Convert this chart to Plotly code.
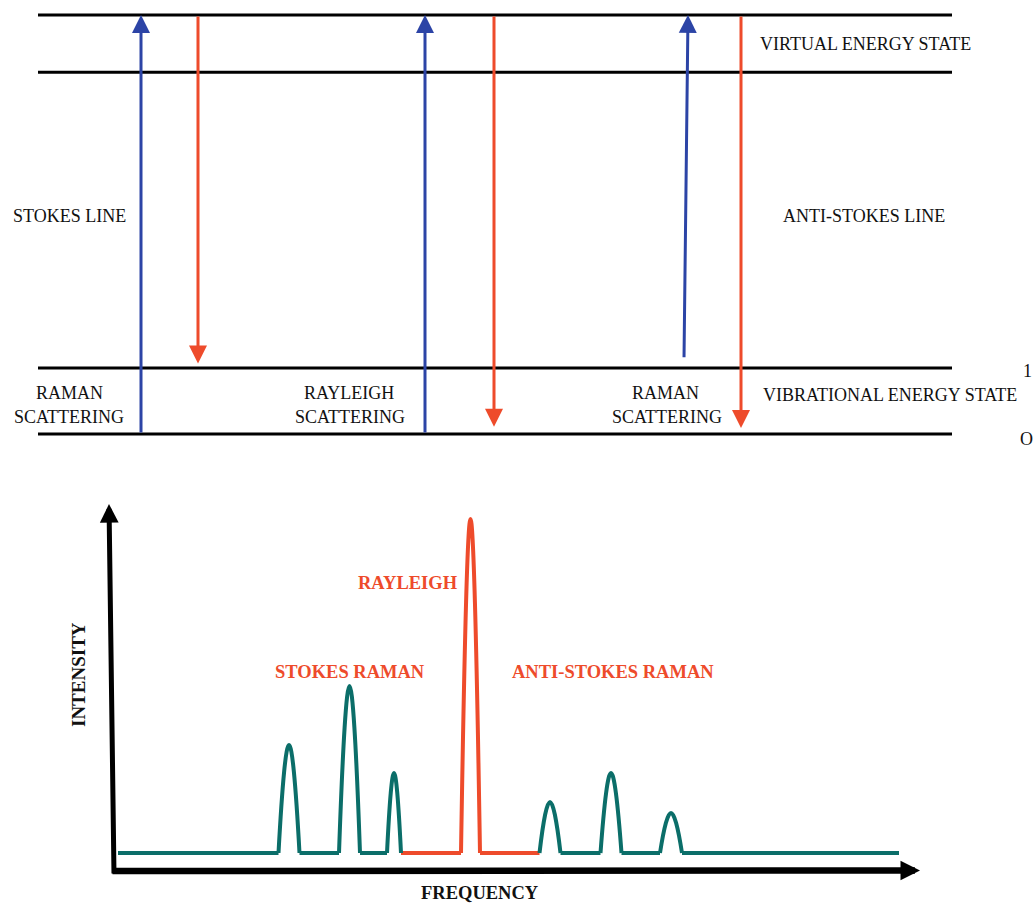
import plotly.graph_objects as go

# ---------------- top: energy level diagram ----------------
# energy levels (units: vibrational quantum = 1)
level_energy = [0.0, 1.0, 5.48, 6.35]
level_x_start = 38
level_x_end = 952

# excitation (blue, upward) arrows
excite_x_from = [141, 425, 684]
excite_x_to = [141, 425, 688]
excite_from = [0.0, 0.0, 1.14]
excite_to = [6.35, 6.35, 6.35]
# emission (red, downward) arrows
emit_x = [198, 494, 741]
emit_from = [6.35, 6.35, 6.35]
emit_to = [1.07, 0.11, 0.09]

top_texts = ["VIRTUAL ENERGY STATE", "STOKES LINE", "ANTI-STOKES LINE",
             "RAMAN", "SCATTERING", "RAYLEIGH", "SCATTERING",
             "RAMAN", "SCATTERING", "VIBRATIONAL ENERGY STATE", "1", "O"]
top_text_x = [758, 11, 781, 69, 69, 349, 350, 665, 667, 761, 1027, 1026]
top_text_e = [5.91, 3.30, 3.30, 0.62, 0.26, 0.62, 0.26, 0.62, 0.26, 0.59, 0.955, -0.076]
top_text_anchor = ["left", "left", "left", "center", "center", "center", "center",
                   "center", "center", "left", "center", "center"]

# ---------------- bottom: spectrum ----------------
baseline_level = 18
peak_freq = [176, 236.5, 281, 357.5, 437, 498, 558]
peak_halfwidth = [10.5, 10.5, 7, 9.5, 10.5, 10.5, 11]
peak_intensity = [126, 185, 98, 352, 69, 98, 58]
peak_kind = ["stokes", "stokes", "stokes", "rayleigh", "anti", "anti", "anti"]
spectrum_start = 5
spectrum_end = 786

spec_labels = ["RAYLEIGH", "STOKES RAMAN", "ANTI-STOKES RAMAN"]
spec_label_x = [347, 236.5, 499.5]
spec_label_y = [288, 199, 199]
spec_label_anchor = ["right", "center", "center"]

BLUE = "#2C44A6"
RED = "#EE4B2B"
TEAL = "#0B6E69"
INK = "#111111"
FONT = "Liberation Serif"

fig = go.Figure()

# energy level lines
for e in level_energy:
    fig.add_trace(go.Scatter(x=[level_x_start, level_x_end], y=[e, e], mode="lines",
                             line=dict(color="black", width=3), xaxis="x", yaxis="y",
                             hoverinfo="skip"))

annotations = []
for xf, xt, ef, et in zip(excite_x_from, excite_x_to, excite_from, excite_to):
    annotations.append(dict(x=xt, y=et, ax=xf, ay=ef, xref="x", yref="y", axref="x", ayref="y",
                            text="", showarrow=True, arrowhead=2, arrowsize=1.2, arrowwidth=3,
                            arrowcolor=BLUE, standoff=0, startstandoff=0))
for x, ef, et in zip(emit_x, emit_from, emit_to):
    annotations.append(dict(x=x, y=et, ax=x, ay=ef, xref="x", yref="y", axref="x", ayref="y",
                            text="", showarrow=True, arrowhead=2, arrowsize=1.2, arrowwidth=3,
                            arrowcolor=RED, standoff=0, startstandoff=0))
for t, x, e, a in zip(top_texts, top_text_x, top_text_e, top_text_anchor):
    annotations.append(dict(x=x, y=e, xref="x", yref="y", text=t, showarrow=False,
                            xanchor=a, yanchor="middle",
                            font=dict(family=FONT, size=18, color=INK)))

# spectrum: baseline segments and peaks
edges = []
for f, w in zip(peak_freq, peak_halfwidth):
    edges.append((f - w, f + w))
seg_starts = [spectrum_start] + [e[1] for e in edges]
seg_ends = [e[0] for e in edges] + [spectrum_end]
kinds_prev = [None] + peak_kind
kinds_next = peak_kind + [None]
for s, e, kp, kn in zip(seg_starts, seg_ends, kinds_prev, kinds_next):
    col = RED if "rayleigh" in (kp, kn) else TEAL
    fig.add_trace(go.Scatter(x=[s, e], y=[baseline_level, baseline_level], mode="lines",
                             line=dict(color=col, width=4), xaxis="x2", yaxis="y2",
                             hoverinfo="skip"))
for f, w, h, k in zip(peak_freq, peak_halfwidth, peak_intensity, peak_kind):
    col = RED if k == "rayleigh" else TEAL
    fig.add_trace(go.Scatter(x=[f - w, f, f + w], y=[baseline_level, h, baseline_level],
                             mode="lines", line=dict(color=col, width=4, shape="spline",
                                                     smoothing=1.3),
                             xaxis="x2", yaxis="y2", hoverinfo="skip"))

# spectrum axes as arrows
annotations.append(dict(x=-4, y=367, ax=1, ay=-4, xref="x2", yref="y2", axref="x2", ayref="y2",
                        text="", showarrow=True, arrowhead=2, arrowsize=0.75, arrowwidth=5,
                        arrowcolor="black", standoff=0, startstandoff=0))
annotations.append(dict(x=807, y=0.5, ax=-2, ay=0, xref="x2", yref="y2", axref="x2", ayref="y2",
                        text="", showarrow=True, arrowhead=2, arrowsize=0.6, arrowwidth=6.5,
                        arrowcolor="black", standoff=0, startstandoff=0))
annotations.append(dict(x=-35, y=196, xref="x2", yref="y2", text="<b>INTENSITY</b>",
                        showarrow=False, textangle=-90,
                        font=dict(family=FONT, size=19, color=INK)))
annotations.append(dict(x=367, y=-22, xref="x2", yref="y2", text="<b>FREQUENCY</b>",
                        showarrow=False, font=dict(family=FONT, size=18.5, color=INK)))
for t, x, y, a in zip(spec_labels, spec_label_x, spec_label_y, spec_label_anchor):
    annotations.append(dict(x=x, y=y, xref="x2", yref="y2", text="<b>" + t + "</b>",
                            showarrow=False, xanchor=a,
                            font=dict(family=FONT, size=18.5, color=RED)))

hidden = dict(visible=False, showgrid=False, zeroline=False, fixedrange=True)
fig.update_layout(
    width=1033, height=903, margin=dict(l=0, r=0, t=0, b=0),
    paper_bgcolor="white", plot_bgcolor="white", showlegend=False,
    xaxis=dict(range=[0, 1033], domain=[0, 1], **hidden),
    yaxis=dict(range=[-7.106, 6.576], domain=[0, 1], **hidden),
    xaxis2=dict(range=[-113, 920], domain=[0, 1], overlaying="x", **hidden),
    yaxis2=dict(range=[-32, 871], domain=[0, 1], overlaying="y", **hidden),
    annotations=annotations,
)
fig.write_html("out.html", config={"displayModeBar": False},
               post_script="document.body.style.margin='0px';")
